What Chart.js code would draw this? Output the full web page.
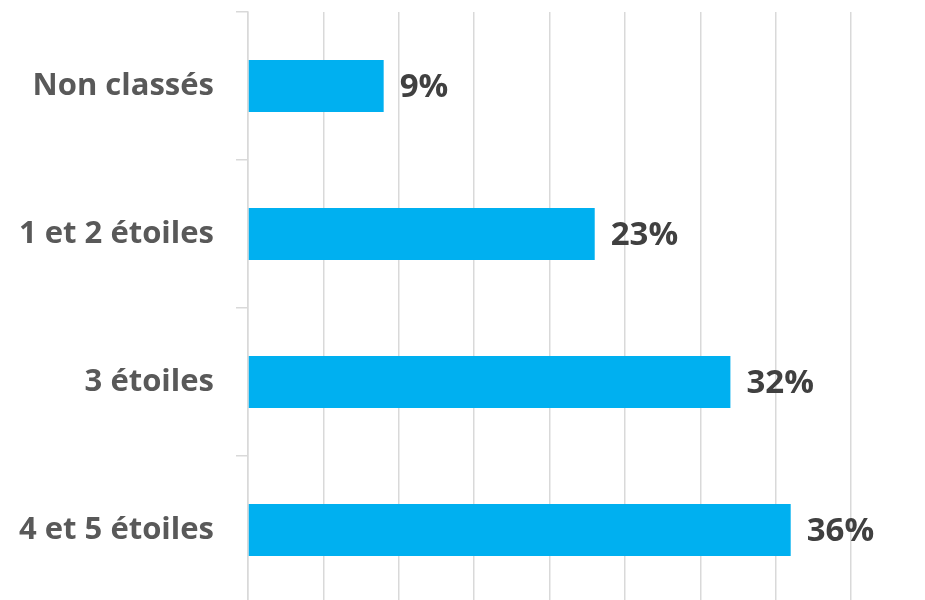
<!DOCTYPE html>
<html>
<head>
<meta charset="utf-8">
<script src="https://cdn.jsdelivr.net/npm/chart.js@4"></script>
<style>
  html, body { margin: 0; padding: 0; background: #fff; overflow: hidden; }
  #wrap { position: relative; width: 925px; height: 604px; }
</style>
</head>
<body>
<div id="wrap"><canvas id="chart"></canvas></div>
<script>
const categories = ["Non classés", "1 et 2 étoiles", "3 étoiles", "4 et 5 étoiles"];
const shares = [9, 23, 32, 36];
const valueLabels = ["9%", "23%", "32%", "36%"];

// draws the % next to each bar end
const barLabels = {
    id: "barLabels",
    afterDatasetsDraw(chart) {
        const ctx = chart.ctx;
        const meta = chart.getDatasetMeta(0);
        ctx.save();
        ctx.font = "bold 33px 'Open Sans'";
        ctx.fillStyle = "#404040";
        ctx.textAlign = "left";
        ctx.textBaseline = "middle";
        meta.data.forEach((bar, i) => {
            ctx.fillText(valueLabels[i], bar.x + 16, bar.y + 2);
        });
        ctx.restore();
    }
};

const ctx = document.getElementById("chart").getContext("2d");
const chart = new Chart(ctx, {
    type: "bar",
    data: {
        labels: categories,
        datasets: [{
            data: shares,
            backgroundColor: "#00B0F0",
            borderWidth: 0,
            barPercentage: 0.35,
            categoryPercentage: 1
        }]
    },
    options: {
        indexAxis: "y",
        responsive: true,
        maintainAspectRatio: false,
        animation: false,
        layout: { padding: { top: 12, right: 74, left: 0, bottom: 0 } },
        plugins: {
            legend: { display: false },
            tooltip: { enabled: false }
        },
        scales: {
            x: {
                min: 0,
                max: 40,
                ticks: { display: false, stepSize: 5 },
                grid: { color: "#d9d9d9", lineWidth: 1.5, drawTicks: false },
                border: { display: false },
                afterFit(scale) { scale.height = 0; }
            },
            y: {
                offset: true,
                ticks: {
                    color: "#595959",
                    font: { family: "Open Sans", size: 31, weight: "bold" },
                    padding: 22
                },
                grid: {
                    drawOnChartArea: false,
                    color: "#d9d9d9",
                    lineWidth: 1.5,
                    tickLength: 12
                },
                border: { display: true, color: "#d9d9d9", width: 1.5 },
                afterFit(scale) {
                    scale.width = 248;
                    scale.paddingTop = 0;
                    scale.paddingBottom = 0;
                }
            }
        }
    },
    plugins: [barLabels]
});
</script>
</body>
</html>
